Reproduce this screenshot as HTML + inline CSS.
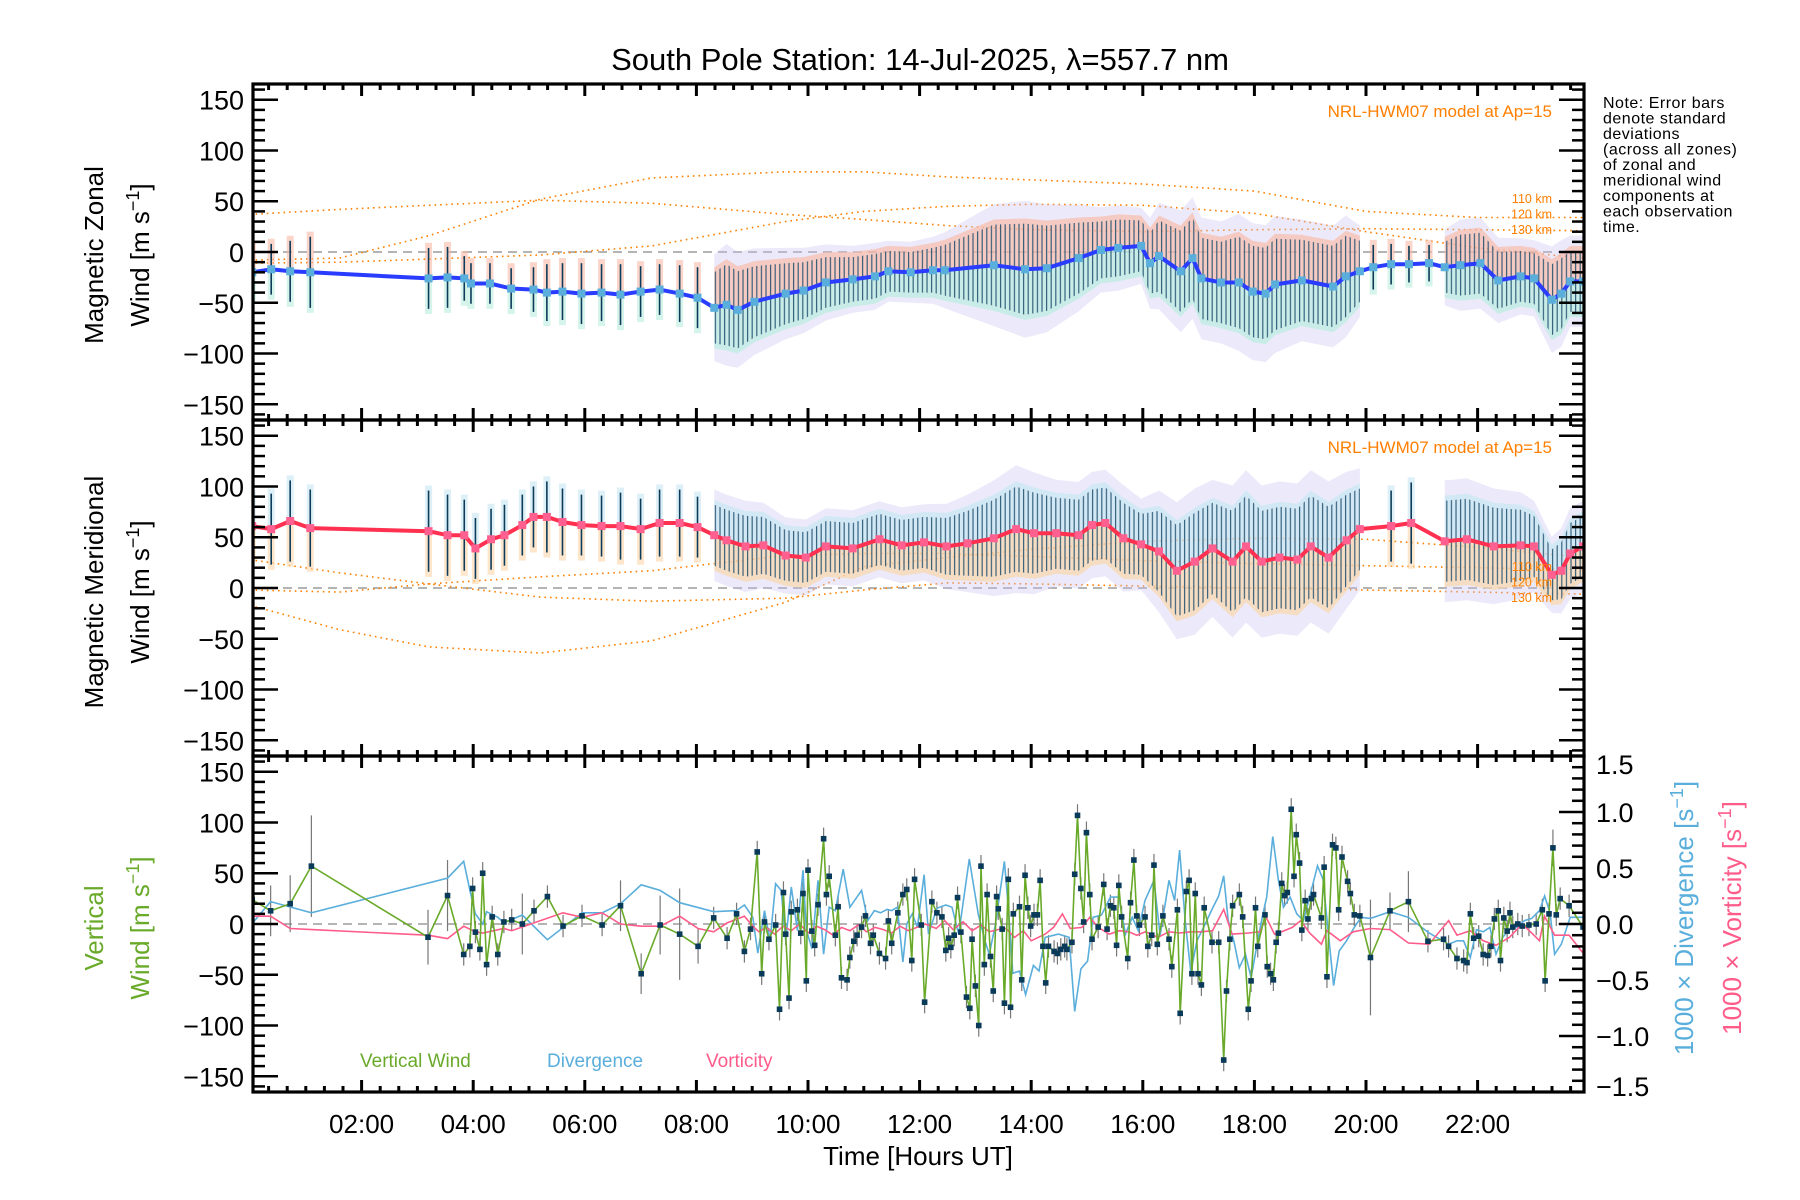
<!DOCTYPE html>
<html><head><meta charset="utf-8"><title>South Pole Station winds</title>
<style>
html,body{margin:0;padding:0;background:#fff;}
svg{display:block;font-family:"Liberation Sans",sans-serif;}
</style></head>
<body>
<svg id="chart" width="1800" height="1200" viewBox="0 0 1800 1200" xmlns="http://www.w3.org/2000/svg">
<defs>
<pattern id="barsPat" patternUnits="userSpaceOnUse" width="4.6" height="10"><rect x="1.8" y="0" width="1.2" height="10" fill="#1a4a6a" opacity="0.85"/></pattern>
<clipPath id="clip1"><rect x="253" y="84" width="1331" height="336"/></clipPath>
<clipPath id="clip2"><rect x="253" y="420" width="1331" height="336"/></clipPath>
<clipPath id="clip3"><rect x="253" y="756" width="1331" height="336"/></clipPath>
</defs>
<text x="920" y="70" text-anchor="middle" font-size="31" fill="#000">South Pole Station: 14-Jul-2025, λ=557.7 nm</text>

<text transform="translate(103,255) rotate(-90)" text-anchor="middle" font-size="26">Magnetic Zonal</text>
<text transform="translate(149,255) rotate(-90)" text-anchor="middle" font-size="26">Wind [m s<tspan dy="-10" font-size="18">−1</tspan><tspan dy="10">]</tspan></text>
<text transform="translate(103,592) rotate(-90)" text-anchor="middle" font-size="26">Magnetic Meridional</text>
<text transform="translate(149,592) rotate(-90)" text-anchor="middle" font-size="26">Wind [m s<tspan dy="-10" font-size="18">−1</tspan><tspan dy="10">]</tspan></text>
<text transform="translate(103,928) rotate(-90)" text-anchor="middle" font-size="26" fill="#6aaa2a">Vertical</text>
<text transform="translate(149,928) rotate(-90)" text-anchor="middle" font-size="26" fill="#6aaa2a">Wind [m s<tspan dy="-10" font-size="18">−1</tspan><tspan dy="10">]</tspan></text>
<text transform="translate(1693,918) rotate(-90)" text-anchor="middle" font-size="26" fill="#5aaedc">1000 × Divergence [s<tspan dy="-10" font-size="18">−1</tspan><tspan dy="10">]</tspan></text>
<text transform="translate(1741,918) rotate(-90)" text-anchor="middle" font-size="26" fill="#ff5c8a">1000 × Vorticity [s<tspan dy="-10" font-size="18">−1</tspan><tspan dy="10">]</tspan></text>

<text x="918" y="1165" text-anchor="middle" font-size="26">Time [Hours UT]</text>

<g font-size="16" letter-spacing="0.5">
<text x="1603" y="108">Note: Error bars</text>
<text x="1603" y="123.5">denote standard</text>
<text x="1603" y="139">deviations</text>
<text x="1603" y="154.5">(across all zones)</text>
<text x="1603" y="170">of zonal and</text>
<text x="1603" y="185.5">meridional wind</text>
<text x="1603" y="201">components at</text>
<text x="1603" y="216.5">each observation</text>
<text x="1603" y="232">time.</text>
</g>

<text x="360" y="1067" font-size="19" fill="#6aaa2a">Vertical Wind</text>
<text x="547" y="1067" font-size="19" fill="#5aaedc">Divergence</text>
<text x="706" y="1067" font-size="19" fill="#ff5c8a">Vorticity</text>

<g id="layer"></g>
</svg>
<script>
// ---------- DATA ----------
const zonalTimes = [0.04,0.38,0.72,1.08,3.2,3.54,3.84,3.96,4.3,4.68,5.08,5.32,5.6,5.94,6.3,6.64,7.0,7.34,7.7,8.02,8.32,8.54,8.74,9.04,9.6,9.92,10.32,10.8,11.2,11.44,11.84,12.24,12.45,13.33,13.89,14.28,14.85,15.25,15.56,15.97,16.13,16.29,16.68,16.89,17.05,17.4,17.72,17.97,18.2,18.37,18.85,19.41,19.64,19.89,20.13,20.45,20.77,21.13,21.41,21.69,22.05,22.37,22.77,23.01,23.33,23.5,23.66,23.89];
const zonalMean = [-20,-17,-19,-20,-26,-25,-26,-31,-31,-36,-37,-40,-39,-41,-40,-42,-39,-37,-41,-45,-55,-52,-57,-49,-41,-38,-30,-27,-24,-19,-20,-18,-18,-13,-17,-16,-6,2,4,6,-11,-4,-19,-6,-26,-30,-30,-39,-41,-32,-28,-34,-24,-19,-15,-12,-12,-11,-15,-13,-11,-28,-24,-26,-47,-41,-29,-29];
const zonalStd = [25,25,30,35,30,30,22,20,20,20,22,28,28,30,28,30,25,25,28,30,35,40,38,35,30,28,25,22,22,20,20,22,25,40,45,42,35,28,28,25,30,35,40,40,40,40,45,45,45,45,40,40,40,30,22,20,18,18,25,30,30,28,25,25,35,35,30,30];
const zonalDenseStart = [8.2,21.3];
const zonalDenseEnd = [19.95,23.9];

const merTimes = [0.04,0.38,0.72,1.08,3.2,3.54,3.84,4.04,4.32,4.56,4.88,5.08,5.32,5.6,5.94,6.3,6.64,7.0,7.34,7.7,8.02,8.32,8.54,8.88,9.2,9.6,9.96,10.32,10.8,11.28,11.68,12.08,12.48,12.86,13.33,13.73,14.05,14.45,14.85,15.09,15.33,15.65,15.97,16.29,16.61,16.93,17.25,17.61,17.85,18.13,18.45,18.77,19.01,19.33,19.65,19.89,20.45,20.81,21.41,21.81,22.29,22.77,23.01,23.33,23.5,23.66,23.89];
const merMean = [61,58,66,59,56,52,52,39,48,52,62,70,70,65,62,61,61,58,64,64,60,52,47,41,42,32,30,41,39,48,42,45,41,44,49,58,54,54,52,62,64,49,43,36,17,26,39,26,41,26,30,28,41,30,47,58,61,64,46,48,41,42,41,13,17,34,41];
const merStd = [30,35,40,38,40,40,35,30,30,30,30,30,35,33,30,30,33,30,33,33,30,30,30,30,28,25,25,25,25,25,25,25,28,32,38,42,40,35,35,35,35,35,30,40,45,48,45,50,50,50,50,50,50,50,45,40,35,40,40,40,38,35,30,25,28,30,30];
const merDenseStart = [8.2,21.3];
const merDenseEnd = [19.95,23.9];

const modelTimes = [0,1.6,3.2,5.2,7.2,9.6,11,12.5,14,16,18,20,22,23.9];
const zonalModel110 = [-8,-6,16,52,73,79,79,74,71,67,60,40,34,34];
const zonalModel120 = [37,42,46,51,48,37,32,26,22,20,22,23,22,21];
const zonalModel130 = [-11,-10,-7,-3,6,30,40,45,47,46,38,20,4,-6];
const merModel110 = [28,15,4,-9,-13,-10,-2,5,4,2,0,-2,-4,-6];
const merModel120 = [-2,-4,4,11,17,32,34,34,31,27,24,22,20,18];
const merModel130 = [-17,-41,-58,-64,-52,-14,21,30,38,46,49,48,40,30];

const vwTimes = [0.04,0.37,0.72,1.1,3.19,3.54,3.83,3.94,3.99,4.04,4.12,4.17,4.24,4.34,4.44,4.55,4.69,4.88,5.09,5.33,5.61,5.95,6.31,6.64,7.01,7.35,7.7,8.03,8.31,8.55,8.72,8.86,8.97,9.09,9.17,9.22,9.3,9.42,9.49,9.56,9.6,9.66,9.7,9.81,9.87,9.91,9.97,10.0,10.07,10.12,10.18,10.28,10.33,10.38,10.49,10.54,10.6,10.7,10.75,10.82,10.88,10.96,11.03,11.12,11.17,11.28,11.39,11.44,11.5,11.61,11.7,11.77,11.86,11.91,12.03,12.09,
12.22,12.31,12.4,12.47,12.52,12.56,12.62,12.68,12.74,12.84,12.9,12.94,13.0,13.06,13.1,13.16,13.21,13.27,13.32,13.38,13.41,13.48,13.52,13.59,13.63,13.68,13.79,13.83,13.89,13.94,13.99,14.05,14.11,14.16,14.21,14.26,14.31,14.41,14.47,14.53,14.6,14.64,14.73,14.78,14.83,14.89,14.94,14.99,15.05,15.09,15.2,15.3,15.36,15.42,15.48,15.53,15.57,15.62,15.73,15.78,15.84,15.89,15.94,16.04,16.09,16.16,16.2,16.26,16.36,16.47,16.52,16.62,16.67,16.78,16.83,16.88,16.94,16.99,17.05,17.1,17.24,17.36,17.45,17.5,17.56,17.61,17.73,17.79,17.89,17.94,18.02,18.06,18.19,18.23,18.29,18.34,18.39,18.43,18.49,18.54,18.59,18.66,18.71,18.75,18.81,18.85,18.91,18.96,19.02,19.06,19.2,19.25,19.3,19.4,19.46,19.51,19.57,19.67,19.72,19.79,19.89,20.08,20.43,20.76,21.11,21.39,21.48,21.63,21.75,21.81,21.87,21.93,22.02,22.1,22.18,22.24,22.3,22.37,22.41,22.47,22.53,22.58,22.63,22.72,22.8,22.92,23.05,23.16,23.21,23.28,23.35,23.41,23.48,23.64,23.89];
const vwValues = [24,13,20,57,-13,28,-30,-22,35,-8,-25,50,-40,7,-30,2,4,0,13,27,-2,8,-1,18,-49,-1,-10,-22,6,-14,10,-27,-5,71,-49,2,-15,-1,-84,31,-10,-73,12,14,-9,30,-56,53,-7,-21,19,84,29,47,-11,17,-53,-55,-33,-17,-11,-3,8,-19,-11,-29,-34,3,-19,11,29,34,-36,44,-1,-77,
22,11,7,-26,-14,-23,-11,26,-8,-72,-83,-15,-61,-100,57,-40,29,-32,-66,27,15,-5,-78,44,-82,10,17,-55,48,16,-2,9,9,43,-22,-58,-22,-27,-29,-25,-22,-25,-18,49,107,35,2,90,29,-15,-3,39,-5,18,16,-21,38,7,-34,21,63,8,-1,7,-22,-11,58,-20,8,-15,-42,14,-88,32,43,-49,30,-49,-60,16,-18,-18,-134,-66,-15,18,29,7,-84,-56,16,-22,9,-42,-49,-55,-18,-9,40,28,31,113,47,88,60,-6,23,5,25,29,6,56,-52,78,75,14,66,42,30,9,8,-33,13,22,-17,-15,-22,-34,-36,-38,10,-14,-12,-30,-31,-22,5,13,-36,6,-7,11,-3,0,-2,-1,0,14,-56,10,75,9,25,18,-3];
const vwErrTimes = [0.37,0.72,1.1,3.19,3.54,4.88,6.64,7.01,7.35,7.7,8.03,20.08,20.76,20.43,23.35];
const vwErrValues = [25,28,50,27,35,30,25,20,29,45,17,57,30,18,18];
const vwDefaultErr = 11;

const divTimes = [0,0.37,1.1,3.54,3.83,3.94,4.04,4.17,4.24,4.44,4.55,4.88,5.33,5.95,6.31,6.64,7.01,7.35,7.7,8.31,8.72,8.86,9.01,9.1,9.22,9.32,9.42,9.52,9.6,9.7,9.81,9.91,9.97,10.07,10.18,10.28,10.38,10.49,10.63,10.75,10.96,11.07,11.19,11.3,11.42,11.5,11.6,11.7,11.77,11.87,11.96,12.08,12.16,12.31,12.47,12.58,12.7,12.89,13.05,13.17,13.25,13.36,13.52,13.59,13.67,13.79,13.9,14.04,14.14,14.25,14.49,14.68,14.78,14.89,15.01,15.11,15.26,15.42,15.57,15.69,15.81,15.92,16.04,16.2,16.31,16.47,16.57,16.66,16.76,16.86,16.97,17.09,17.24,17.36,17.45,17.53,17.63,17.73,17.84,17.94,18.06,18.14,18.22,18.33,18.43,18.52,18.64,18.76,18.88,18.99,19.13,19.23,19.32,19.42,19.52,19.65,19.79,19.91,20.08,20.43,20.76,21.13,21.48,21.63,21.75,21.87,21.98,22.1,22.22,22.33,22.45,22.57,22.69,22.84,22.97,23.11,23.2,23.3,23.38,23.5,23.66,23.89];
const divValues = [-0.02,0.2,0.1,0.41,0.56,0.3,0.09,0.0,0.11,0.06,0.01,0.08,-0.14,0.1,0.1,0.18,0.35,0.3,0.19,0.11,0.12,0.17,0.06,-0.26,0.12,-0.15,0.36,0.3,-0.15,0.33,-0.06,0.48,-0.05,-0.22,0.39,-0.27,0.15,0.12,0.49,0.15,0.3,0.03,0.12,0.1,0.13,0.12,0.15,-0.34,0.0,0.09,-0.03,0.44,-0.09,0.14,0.17,0.15,-0.09,0.58,0.09,-0.15,-0.27,0.0,0.56,0.15,-0.44,-0.42,-0.63,-0.37,-0.42,-0.12,-0.09,-0.12,-0.78,-0.4,-0.33,0.06,0.08,0.24,0.24,-0.09,0.06,-0.06,0.21,0.39,-0.1,0.39,0.21,0.66,0.03,-0.43,-0.15,-0.03,0.13,0.25,0.43,0.03,-0.15,-0.39,-0.27,-0.48,-0.15,0.06,0.24,0.78,0.39,0.15,0.24,0.09,0.03,0.24,0.52,0.4,-0.06,-0.55,-0.24,-0.15,-0.03,0.06,0.05,0.11,0.06,-0.08,-0.18,-0.15,-0.15,-0.3,-0.05,-0.07,-0.03,-0.27,-0.12,-0.05,-0.03,0.03,0.05,0.12,0.25,0.1,-0.27,-0.18,0.06,0.06];

const vortTimes = [0,0.37,0.72,1.1,3.19,3.54,3.83,4.04,4.17,4.55,4.69,5.09,5.61,5.95,6.31,6.64,7.01,7.35,7.7,8.03,8.31,8.55,8.86,9.01,9.12,9.25,9.4,9.55,9.7,9.85,10.0,10.15,10.3,10.45,10.6,10.75,10.9,11.05,11.2,11.35,11.5,11.65,11.8,11.95,12.1,12.3,12.45,12.6,12.78,12.94,13.1,13.25,13.4,13.55,13.7,13.86,14.0,14.25,14.4,14.56,14.7,14.91,15.05,15.2,15.4,15.58,15.75,15.89,16.05,16.27,16.47,16.66,16.86,17.05,17.25,17.45,17.6,17.9,18.1,18.21,18.36,18.49,18.68,18.83,18.99,19.2,19.3,19.54,19.77,20.08,20.43,20.76,21.13,21.48,21.63,21.87,22.1,22.33,22.57,22.8,22.99,23.11,23.2,23.38,23.64,23.89];
const vortValues = [0.07,0.07,-0.04,-0.05,-0.1,-0.13,-0.02,-0.07,-0.08,-0.04,-0.06,0.01,0.1,0.06,0.1,0.0,-0.02,-0.02,0.07,-0.04,-0.07,0.01,0.07,-0.02,-0.07,-0.03,-0.09,-0.02,-0.06,0.0,-0.08,-0.02,-0.05,-0.1,-0.03,-0.06,-0.01,-0.07,-0.03,-0.05,-0.08,-0.02,-0.06,-0.03,0.0,-0.04,0.03,-0.05,0.02,-0.06,-0.01,-0.07,-0.05,-0.04,-0.12,-0.06,-0.15,-0.09,-0.03,0.09,-0.04,-0.03,0.06,-0.03,-0.09,-0.06,-0.07,-0.1,-0.07,-0.12,-0.07,-0.08,-0.07,-0.07,-0.06,0.13,-0.09,-0.08,-0.07,0.06,-0.09,-0.07,-0.03,0.03,-0.08,-0.18,-0.06,-0.15,-0.07,-0.04,-0.05,-0.17,-0.18,0.03,-0.1,-0.06,-0.15,-0.19,-0.12,0.0,-0.09,-0.15,0.07,-0.1,-0.1,-0.26];

const yTickLabels = [150,100,50,0,-50,-100,-150];
const rightTickLabels = ["1.5","1.0","0.5","0.0","−0.5","−1.0","−1.5"];
const rightTickValues = [1.5,1.0,0.5,0.0,-0.5,-1.0,-1.5];
const xTickHours = [2,4,6,8,10,12,14,16,18,20,22];
const xTickLabels = ["02:00","04:00","06:00","08:00","10:00","12:00","14:00","16:00","18:00","20:00","22:00"];

// ---------- GEOMETRY ----------
const NS = 'http://www.w3.org/2000/svg';
const X0 = 250, PXH = 55.8, LEFT = 253, RIGHT = 1584;
const TOPS = [84, 420, 756];
const PH = 336, YR = 165.5, DR = 1.5;
function xs(h){ return X0 + PXH*h; }
function ys(p, v){ return TOPS[p] + PH/2 - v*(PH/2)/YR; }
function yd(v){ return TOPS[2] + PH/2 - v*(PH/2)/DR; }
const layer = document.getElementById('layer');
function mk(tag, attrs, parent){
  const e = document.createElementNS(NS, tag);
  for (const k in attrs) e.setAttribute(k, attrs[k]);
  (parent||layer).appendChild(e);
  return e;
}
function lineStr(ts, vs, fy){ return ts.map((t,i)=>(i?'L':'M')+xs(t).toFixed(1)+','+fy(vs[i]).toFixed(1)).join(''); }
function inDense(t, st, en){ for (let i=0;i<st.length;i++) if (t>=st[i] && t<=en[i]) return true; return false; }

function drawWindPanel(p, ts, ms, ss, dSt, dEn, models, lineCol, markCol, upCol, lowCol, name){
  const g = mk('g', {'clip-path':'url(#clip'+(p+1)+')'});
  
  
  const z = mk('line', {x1:LEFT, x2:RIGHT, y1:ys(p,0), y2:ys(p,0), stroke:'#888', 'stroke-width':1.3, 'stroke-dasharray':'9 6'}, g);
  
  
  models.forEach((mv, k)=>{
    const m = mk('path', {d:lineStr(modelTimes, mv, v=>ys(p,v)), fill:'none', stroke:'#ff7f00', 'stroke-width':1.6, 'stroke-dasharray':'1.6 4'}, g);
    
    
  });
  for (let s=0; s<dSt.length; s++){
    const idx = ts.map((t,i)=>i).filter(i=>ts[i]>=dSt[s] && ts[i]<=dEn[s]);
    const tt = idx.map(i=>ts[i]);
    const up = idx.map(i=>ms[i]+ss[i]), lo = idx.map(i=>ms[i]-ss[i]);
    const upO = idx.map(i=>ms[i]+ss[i]*1.5), loO = idx.map(i=>ms[i]-ss[i]*1.5);
    const mm = idx.map(i=>ms[i]);
    const poly = (a,b)=> lineStr(tt, a, v=>ys(p,v)) + tt.slice().reverse().map((t,i)=>'L'+xs(t).toFixed(1)+','+ys(p,b.slice().reverse()[i]).toFixed(1)).join('')+'Z';
    const o = mk('path', {d:poly(upO, loO), fill:'#c9c2f0', opacity:0.35}, g);
    
    
    const u = mk('path', {d:poly(up.map(v=>v+5), mm), fill:upCol, opacity:0.65}, g);
    
    
    const l = mk('path', {d:poly(mm, lo.map(v=>v-5)), fill:lowCol, opacity:0.65}, g);
    
    
    const b = mk('path', {d:poly(up, lo), fill:'url(#barsPat)'}, g);
    
    
  }
  ts.forEach((t,i)=>{
    if (inDense(t, dSt, dEn)) return;
    const hu = mk('rect', {x:xs(t)-3.5, y:ys(p,ms[i]+ss[i]+5), width:7, height:ys(p,ms[i])-ys(p,ms[i]+ss[i]+5), fill:upCol, opacity:0.6}, g);
    
    
    const hl = mk('rect', {x:xs(t)-3.5, y:ys(p,ms[i]), width:7, height:ys(p,ms[i]-ss[i]-5)-ys(p,ms[i]), fill:lowCol, opacity:0.6}, g);
    
    
    const b = mk('line', {x1:xs(t), x2:xs(t), y1:ys(p,ms[i]+ss[i]), y2:ys(p,ms[i]-ss[i]), stroke:'#0d3b5a', 'stroke-width':1.6}, g);
    
    
  });
  const ml = mk('path', {d:lineStr(ts, ms, v=>ys(p,v)), fill:'none', stroke:lineCol, 'stroke-width':4, 'stroke-linejoin':'round'}, g);
  
  
  ts.forEach((t,i)=>{
    const c = mk('rect', {x:xs(t)-4, y:ys(p,ms[i])-4, width:8, height:8, fill:markCol}, g);
    
    
  });
  const lab = mk('text', {x:1552, y:TOPS[p]+33, 'text-anchor':'end', 'font-size':17, fill:'#ff7f00'});
  lab.textContent = 'NRL-HWM07 model at Ap=15';
  
  
  ['110 km','120 km','130 km'].forEach((s,k)=>{
    const yy = p===0 ? 203+k*15.5 : 571+k*15.5;
    const t = mk('text', {x:1552, y:yy, 'text-anchor':'end', 'font-size':12.5, fill:'#ff7f00'});
    t.textContent = s;
    
    
  });
}

drawWindPanel(0, zonalTimes, zonalMean, zonalStd, zonalDenseStart, zonalDenseEnd, [zonalModel110, zonalModel120, zonalModel130], '#2a3cff', '#5aaedc', '#f9b9a6', '#b9ecde', 'zonal');
drawWindPanel(1, merTimes, merMean, merStd, merDenseStart, merDenseEnd, [merModel110, merModel120, merModel130], '#ff3050', '#ff6090', '#c6e6f2', '#fbd5a8', 'meridional');

// ---------- PANEL 3 ----------
(function(){
  const g = mk('g', {'clip-path':'url(#clip3)'});
  
  
  const z = mk('line', {x1:LEFT, x2:RIGHT, y1:ys(2,0), y2:ys(2,0), stroke:'#888', 'stroke-width':1.3, 'stroke-dasharray':'9 6'}, g);
  
  
  vwTimes.forEach((t,i)=>{
    const k = vwErrTimes.indexOf(t);
    const e = k>=0 ? vwErrValues[k] : vwDefaultErr;
    const b = mk('line', {x1:xs(t), x2:xs(t), y1:ys(2,vwValues[i]+e), y2:ys(2,vwValues[i]-e), stroke:'#777', 'stroke-width':1.2}, g);
    
    
  });
  const dv = mk('path', {d:lineStr(divTimes, divValues, yd), fill:'none', stroke:'#5aaedc', 'stroke-width':1.6}, g);
  
  
  const vo = mk('path', {d:lineStr(vortTimes, vortValues, yd), fill:'none', stroke:'#ff5c8a', 'stroke-width':1.6}, g);
  
  
  const vl = mk('path', {d:lineStr(vwTimes, vwValues, v=>ys(2,v)), fill:'none', stroke:'#6aaa2a', 'stroke-width':1.6}, g);
  
  
  vwTimes.forEach((t,i)=>{
    const c = mk('rect', {x:xs(t)-2.8, y:ys(2,vwValues[i])-2.8, width:5.6, height:5.6, fill:'#0a3a5a'}, g);
    
    
  });
})();

// ---------- AXES ----------
for (let p=0; p<3; p++){
  const top = TOPS[p], bot = TOPS[p]+PH;
  const ax = mk('g', {stroke:'#000'});
  
  
  for (let v=-160; v<=160; v+=10){
    const y = ys(p,v);
    if (y<top+1 || y>bot-1) continue;
    const L = (v%50===0) ? 25 : 12;
    mk('line', {x1:LEFT, x2:LEFT+L, y1:y, y2:y, 'stroke-width':2.5}, ax);
    if (p<2) mk('line', {x1:RIGHT, x2:RIGHT-L, y1:y, y2:y, 'stroke-width':2.5}, ax);
  }
  if (p===2){
    for (let k=-14; k<=14; k++){
      const v = k/10, y = yd(v);
      const L = (k%5===0) ? 25 : 12;
      mk('line', {x1:RIGHT, x2:RIGHT-L, y1:y, y2:y, 'stroke-width':2.5}, ax);
    }
  }
  for (let m=1; m<72; m++){
    const h = m/3, x = xs(h);
    if (x>RIGHT-2) break;
    const L = (m%6===0) ? 12 : 6;
    mk('line', {x1:x, x2:x, y1:top, y2:top+L, 'stroke-width':3}, ax);
    mk('line', {x1:x, x2:x, y1:bot, y2:bot-L, 'stroke-width':3}, ax);
  }
  mk('rect', {x:LEFT, y:top, width:RIGHT-LEFT, height:PH, fill:'none', 'stroke-width':3.2}, ax);
  yTickLabels.forEach(v=>{
    const t = mk('text', {x:244, y:ys(p,v)+10, 'text-anchor':'end', 'font-size':27, fill:'#000'});
    t.textContent = v<0 ? '−'+Math.abs(v) : String(v);
    
    
  });
}
rightTickValues.forEach((v,i)=>{
  const t = mk('text', {x:1596, y:yd(v)+10 + (v===1.5?8:(v===-1.5?-6:0)), 'font-size':27, fill:'#000'});
  t.textContent = rightTickLabels[i];
  
  
});
xTickHours.forEach((h,i)=>{
  const t = mk('text', {x:xs(h), y:1133, 'text-anchor':'middle', 'font-size':26, fill:'#000'});
  t.textContent = xTickLabels[i];
  
  
});
</script>
</body></html>
